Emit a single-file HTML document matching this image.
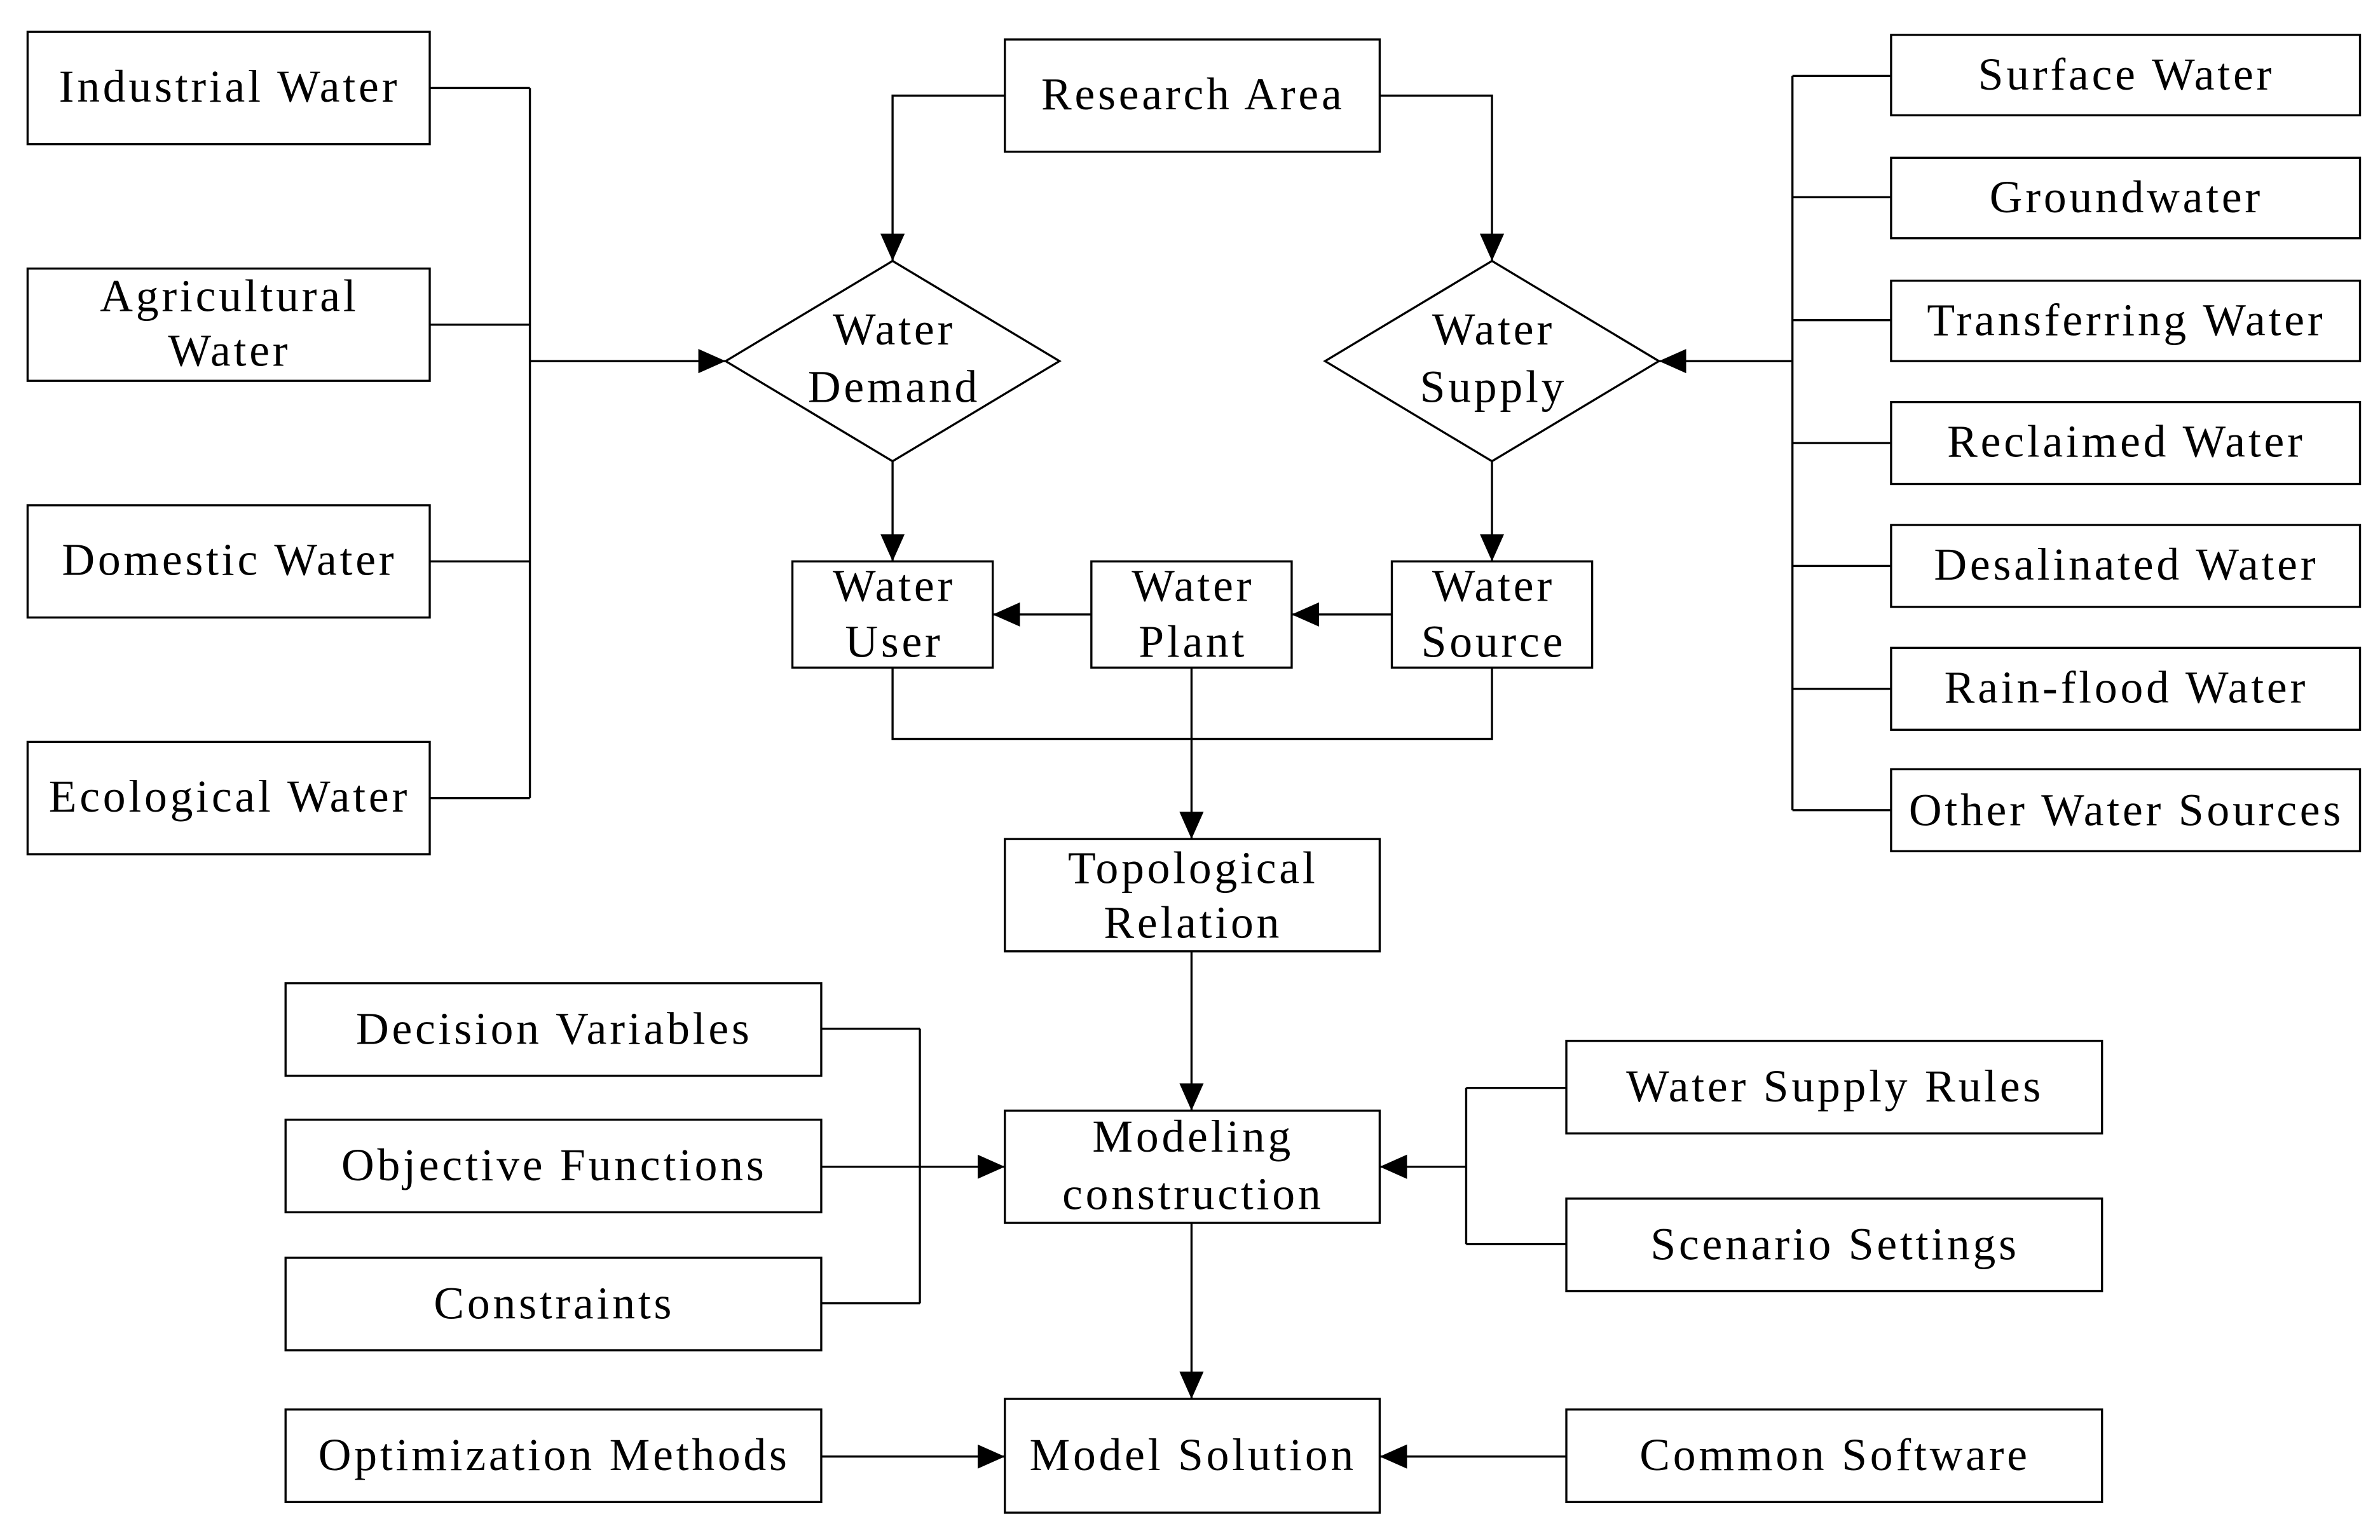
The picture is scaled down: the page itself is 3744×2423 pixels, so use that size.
<!DOCTYPE html>
<html><head><meta charset="utf-8"><style>html,body{margin:0;padding:0;background:#fff}svg{display:block}</style></head>
<body>
<svg width="3744" height="2423" viewBox="0 0 1568 1015" xmlns="http://www.w3.org/2000/svg" font-family="'Liberation Serif', serif" font-size="30" letter-spacing="2" text-anchor="middle">
<defs>
<marker id="b" markerWidth="18" markerHeight="16" refX="18" refY="8" orient="auto" markerUnits="userSpaceOnUse" viewBox="0 0 18 16"><path d="M0,0L18,8L0,16z" fill="#000"/></marker></defs>
<g fill="none" stroke="#000" stroke-width="1.4">
<rect x="18" y="21" width="265" height="74"/><rect x="18" y="177" width="265" height="74"/><rect x="18" y="333" width="265" height="74"/><rect x="18" y="489" width="265" height="74"/>
<path d="M283 58H349M283 214H349M283 370H349M283 526H349M349 58V526"/>
<path d="M349 238H478" marker-end="url(#b)"/>
<rect x="662" y="26" width="247" height="74"/>
<path d="M662 63H588V172" marker-end="url(#b)"/><path d="M909 63H983V172" marker-end="url(#b)"/>
<path d="M478 238L588 172L698 238L588 304Z"/><path d="M873 238L983 172L1093 238L983 304Z"/>
<rect x="1246" y="23" width="309" height="53"/><rect x="1246" y="104" width="309" height="53"/><rect x="1246" y="185" width="309" height="53"/><rect x="1246" y="265" width="309" height="54"/><rect x="1246" y="346" width="309" height="54"/><rect x="1246" y="427" width="309" height="54"/><rect x="1246" y="507" width="309" height="54"/>
<path d="M1181 50H1246M1181 130H1246M1181 211H1246M1181 292H1246M1181 373H1246M1181 454H1246M1181 534H1246M1181 50V534"/>
<path d="M1181 238H1093" marker-end="url(#b)"/>
<path d="M588 304V370" marker-end="url(#b)"/><path d="M983 304V370" marker-end="url(#b)"/>
<rect x="522" y="370" width="132" height="70"/><rect x="719" y="370" width="132" height="70"/><rect x="917" y="370" width="132" height="70"/>
<path d="M917 405H851" marker-end="url(#b)"/><path d="M719 405H654" marker-end="url(#b)"/>
<path d="M588 440V487H983V440"/>
<path d="M785 440V553" marker-end="url(#b)"/>
<rect x="662" y="553" width="247" height="74"/>
<path d="M785 627V732" marker-end="url(#b)"/>
<rect x="662" y="732" width="247" height="74"/>
<path d="M785 806V922" marker-end="url(#b)"/>
<rect x="662" y="922" width="247" height="75"/>
<rect x="188" y="648" width="353" height="61"/><rect x="188" y="738" width="353" height="61"/><rect x="188" y="829" width="353" height="61"/><rect x="188" y="929" width="353" height="61"/>
<path d="M541 678H606M541 859H606M606 678V859"/>
<path d="M541 769H662" marker-end="url(#b)"/><path d="M541 960H662" marker-end="url(#b)"/>
<rect x="1032" y="686" width="353" height="61"/><rect x="1032" y="790" width="353" height="61"/><rect x="1032" y="929" width="353" height="61"/>
<path d="M1032 717H966M1032 820H966M966 717V820"/>
<path d="M966 769H909" marker-end="url(#b)"/><path d="M1032 960H909" marker-end="url(#b)"/>
</g>
<g fill="#000">
<text x="151" y="67">Industrial Water</text>
<text x="151" y="205">Agricultural</text><text x="151" y="241">Water</text>
<text x="151" y="379">Domestic Water</text>
<text x="151" y="535">Ecological Water</text>
<text x="786" y="72">Research Area</text>
<text x="589" y="227">Water</text><text x="589" y="265">Demand</text>
<text x="984" y="227">Water</text><text x="984" y="265">Supply</text>
<text x="1401" y="59">Surface Water</text>
<text x="1401" y="140">Groundwater</text>
<text x="1401" y="221">Transferring Water</text>
<text x="1401" y="301">Reclaimed Water</text>
<text x="1401" y="382">Desalinated Water</text>
<text x="1401" y="463">Rain-flood Water</text>
<text x="1401" y="544">Other Water Sources</text>
<text x="589" y="396">Water</text><text x="589" y="433">User</text>
<text x="786" y="396">Water</text><text x="786" y="433">Plant</text>
<text x="984" y="396">Water</text><text x="984" y="433">Source</text>
<text x="786" y="582">Topological</text><text x="786" y="618">Relation</text>
<text x="786" y="759">Modeling</text><text x="786" y="797">construction</text>
<text x="786" y="969">Model Solution</text>
<text x="365" y="688">Decision Variables</text>
<text x="365" y="778">Objective Functions</text>
<text x="365" y="869">Constraints</text>
<text x="365" y="969">Optimization Methods</text>
<text x="1209" y="726">Water Supply Rules</text>
<text x="1209" y="830">Scenario Settings</text>
<text x="1209" y="969">Common Software</text>
</g>
</svg>
</body></html>
